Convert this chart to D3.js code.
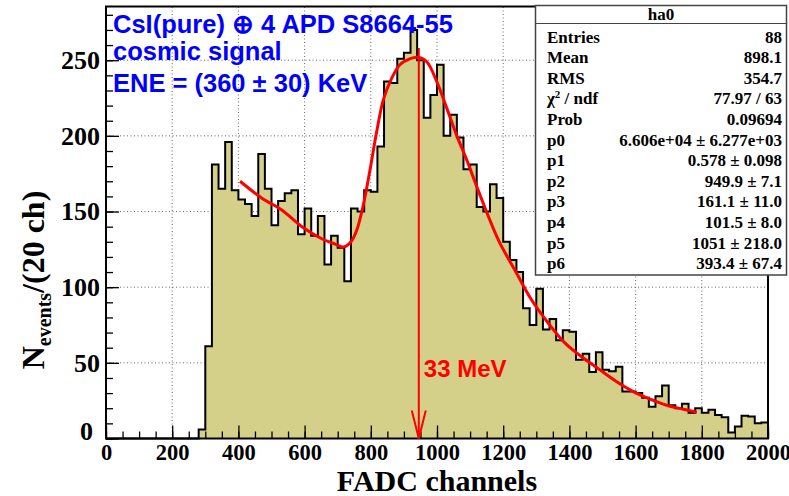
<!DOCTYPE html>
<html>
<head>
<meta charset="utf-8">
<script src="https://cdn.jsdelivr.net/npm/d3@7"></script>
<style>
body { margin: 0; background: #fff; }
</style>
</head>
<body>
<div id="chart"></div>
<script>
// histogram ha0: 100 bins of 20 FADC channels from 0 to 2000
let binWidth = 20;
let counts = [
  0, 0, 0, 0, 0, 0, 0, 0, 0, 0,
  0, 0, 0, 0, 6, 61, 181, 165, 196, 164,
  158, 155, 147, 188, 165, 141, 157, 162, 164, 135,
  152, 134, 147, 115, 134, 126, 104, 152, 150, 164,
  163, 193, 236, 235, 251, 255, 270, 250, 212, 227,
  247, 200, 214, 199, 178, 181, 153, 150, 168, 159,
  130, 118, 110, 86, 75, 99, 72, 79, 65, 71.5,
  70.5, 52, 56, 44, 57, 45.5, 44.5, 47.5, 31, 31,
  30, 27, 21, 28, 35, 22, 20, 23, 17, 20,
  17, 19, 15.5, 14, 4, 8, 15, 14.5, 10, 10.5
];

// fit curve
let fitX = [405, 470, 531, 592, 652, 692, 718, 740, 758, 778, 798, 818, 838, 863, 888, 919, 941, 969,
  999, 1030, 1060, 1090, 1135, 1186, 1236, 1286, 1337, 1387, 1437, 1488, 1543, 1593, 1644, 1694, 1744, 1785];
let fitY = [170, 159, 151, 140, 132, 128.5, 126.5, 130, 138, 155, 178, 203, 224, 238, 247, 251, 252, 249,
  236, 218, 200, 184, 158, 131, 111, 91.5, 76, 63, 54, 46, 37.5, 31, 26, 22, 19.3, 17.3];

let xTicks = [0, 200, 400, 600, 800, 1000, 1200, 1400, 1600, 1800, 2000];
let yTicks = [0, 50, 100, 150, 200, 250];

let statLabels = ["Entries", "Mean", "RMS", "chi2", "Prob", "p0", "p1", "p2", "p3", "p4", "p5", "p6"];
let statValues = ["88", "898.1", "354.7", "77.97 / 63", "0.09694", "6.606e+04 \u00b1 6.277e+03",
  "0.578 \u00b1 0.098", "949.9 \u00b1 7.1", "161.1 \u00b1 11.0", "101.5 \u00b1 8.0",
  "1051 \u00b1 218.0", "393.4 \u00b1 67.4"];

let titleLines = ["CsI(pure) \u2295 4 APD S8664-55", "cosmic signal", "ENE = (360 \u00b1 30) KeV"];
let peakChannel = 945;
let peakLabel = "33 MeV";

let width = 789, height = 496;
let serif = "'Liberation Serif', 'Times New Roman', serif";
let sans = "'Liberation Sans', Arial, sans-serif";

let svg = d3.select("#chart")
    .append("svg")
    .attr("width", width)
    .attr("height", height);

let x = d3.scaleLinear().domain([0, 2000]).range([106, 768]);
let y = d3.scaleLinear().domain([0, 285.5]).range([438.5, 6.5]);

// dotted grid behind the histogram
let grid = svg.append("g")
    .attr("stroke", "#666")
    .attr("stroke-width", 1)
    .attr("stroke-dasharray", "1,2.5");
grid.selectAll(".gx").data(xTicks.slice(1, -1)).enter()
    .append("line")
    .attr("x1", d => x(d)).attr("x2", d => x(d))
    .attr("y1", y(0)).attr("y2", y.range()[1]);
grid.selectAll(".gy").data(yTicks.slice(1)).enter()
    .append("line")
    .attr("x1", x(0)).attr("x2", x(2000))
    .attr("y1", d => y(d)).attr("y2", d => y(d));

// histogram as steps
let bins = counts.map((c, i) => ({ edge: i * binWidth, value: c }));
bins.push({ edge: 2000, value: counts[counts.length - 1] });

svg.append("path")
    .datum(bins)
    .attr("fill", "#d4cf89")
    .attr("d", d3.area()
        .x(d => x(d.edge))
        .y0(y(0))
        .y1(d => y(d.value))
        .curve(d3.curveStepAfter));

svg.append("path")
    .datum(bins)
    .attr("fill", "none")
    .attr("stroke", "#000")
    .attr("stroke-width", 2)
    .attr("d", d3.line()
        .x(d => x(d.edge))
        .y(d => y(d.value))
        .curve(d3.curveStepAfter));

// fit
svg.append("path")
    .datum(d3.zip(fitX, fitY))
    .attr("fill", "none")
    .attr("stroke", "#ff0000")
    .attr("stroke-width", 3)
    .attr("d", d3.line()
        .x(d => x(d[0]))
        .y(d => y(d[1]))
        .curve(d3.curveCatmullRom));

// axes with inward ticks
let xMinor = d3.range(0, 2001, 50);
let yMinor = d3.range(0, 281, 10);

let xAxis = svg.append("g")
    .attr("transform", `translate(0, ${y(0)})`)
    .call(d3.axisBottom(x).tickValues(xTicks).tickSizeInner(-13).tickSizeOuter(0).tickPadding(6).tickFormat(d3.format("d")));
let xMinorAxis = svg.append("g")
    .attr("transform", `translate(0, ${y(0)})`)
    .call(d3.axisBottom(x).tickValues(xMinor).tickSizeInner(-7).tickSizeOuter(0).tickFormat(""));

let yAxis = svg.append("g")
    .attr("transform", `translate(${x(0)}, 0)`)
    .call(d3.axisLeft(y).tickValues(yTicks).tickSizeInner(-13).tickSizeOuter(0).tickPadding(6));
let yMinorAxis = svg.append("g")
    .attr("transform", `translate(${x(0)}, 0)`)
    .call(d3.axisLeft(y).tickValues(yMinor).tickSizeInner(-7).tickSizeOuter(0).tickFormat(""));

// minor axes only need the tick marks
xMinorAxis.selectAll("text").remove();
yMinorAxis.selectAll("text").remove();

svg.selectAll(".domain").remove();
svg.selectAll(".tick line").attr("stroke", "#000").attr("stroke-width", 1.3);
svg.selectAll(".tick text")
    .attr("fill", "#000")
    .style("font-family", serif)
    .style("font-weight", "bold")
    .style("font-size", "22.5px");
yAxis.selectAll(".tick text").style("font-size", "26px");
yAxis.selectAll(".tick text").filter(d => d === 0)
    .attr("x", -13)
    .attr("dy", "0.05em");

// frame
svg.append("rect")
    .attr("x", x(0)).attr("y", y.range()[1])
    .attr("width", x(2000) - x(0))
    .attr("height", y(0) - y.range()[1])
    .attr("fill", "none")
    .attr("stroke", "#000")
    .attr("stroke-width", 2);

// axis titles
svg.append("text")
    .attr("x", (x(0) + x(2000)) / 2)
    .attr("y", 491)
    .attr("text-anchor", "middle")
    .style("font-family", serif)
    .style("font-weight", "bold")
    .style("font-size", "30px")
    .text("FADC channels");

let yTitle = svg.append("text")
    .attr("transform", "translate(44, 280) rotate(-90)")
    .attr("text-anchor", "middle")
    .style("font-family", serif)
    .style("font-weight", "bold")
    .style("font-size", "32px");
yTitle.append("tspan").text("N");
yTitle.append("tspan").attr("dy", 7).style("font-size", "20px").text("events");
yTitle.append("tspan").attr("dy", -7).text("/(20 ch)");

// peak marker
let px = x(peakChannel);
let arrow = svg.append("g")
    .attr("stroke", "#ff0000")
    .attr("stroke-width", 2)
    .attr("fill", "none");
arrow.append("line")
    .attr("x1", px).attr("x2", px)
    .attr("y1", y(258)).attr("y2", y(0));
arrow.append("path")
    .attr("d", `M${px - 7},${y(0) - 28} L${px},${y(0)} L${px + 7},${y(0) - 28}`);

svg.append("text")
    .attr("x", px + 5)
    .attr("y", 377)
    .attr("fill", "#ff0000")
    .style("font-family", sans)
    .style("font-weight", "bold")
    .style("font-size", "24px")
    .text(peakLabel);

// blue caption
svg.selectAll(".caption").data(titleLines).enter()
    .append("text")
    .attr("x", 113)
    .attr("y", (d, i) => [32.5, 60, 91.5][i])
    .attr("fill", "#0000ff")
    .style("font-family", sans)
    .style("font-weight", "bold")
    .style("font-size", "25.5px")
    .text(d => d);

// stats box
let box = svg.append("g");
box.append("rect")
    .attr("x", 535.5).attr("y", 5.5)
    .attr("width", 251).attr("height", 269.5)
    .attr("fill", "#fff")
    .attr("stroke", "#444")
    .attr("stroke-width", 1.5);
box.append("line")
    .attr("x1", 535.5).attr("x2", 786.5)
    .attr("y1", 23.5).attr("y2", 23.5)
    .attr("stroke", "#444")
    .attr("stroke-width", 1.2);
box.append("text")
    .attr("x", 661).attr("y", 20)
    .attr("text-anchor", "middle")
    .style("font-family", serif)
    .style("font-weight", "bold")
    .style("font-size", "17px")
    .text("ha0");

statLabels.forEach(function(label, i) {
    let yy = 42.5 + i * 20.6;
    let t = box.append("text")
        .attr("x", 547).attr("y", yy)
        .style("font-family", serif)
        .style("font-weight", "bold")
        .style("font-size", "17px");
    if (label === "chi2") {
        t.append("tspan").text("\u03c7");
        t.append("tspan").attr("dy", -6).style("font-size", "11px").text("2");
        t.append("tspan").attr("dy", 6).text(" / ndf");
    } else {
        t.text(label);
    }
    box.append("text")
        .attr("x", 782).attr("y", yy)
        .attr("text-anchor", "end")
        .style("font-family", serif)
        .style("font-weight", "bold")
        .style("font-size", "17px")
        .text(statValues[i]);
});
</script>
</body>
</html>
